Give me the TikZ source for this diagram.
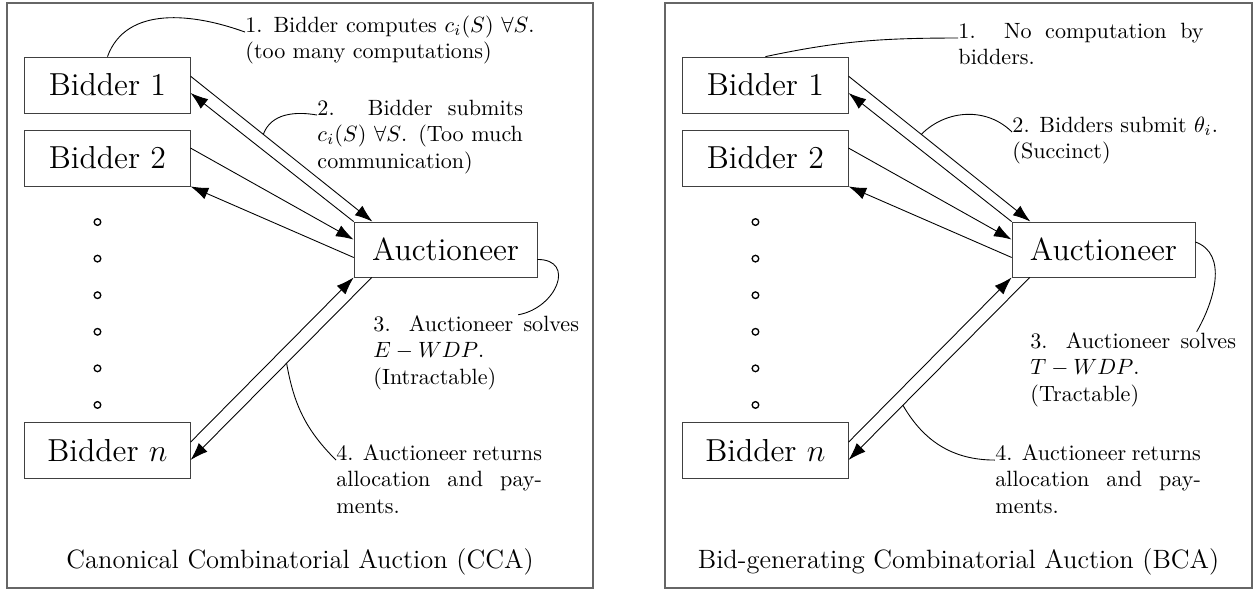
\documentclass[tikz,border=0pt]{standalone}
\usepackage{tikz}
\usetikzlibrary{arrows.meta}

\begin{document}
\begin{tikzpicture}[
    party box/.style={draw=black!75, font=\Large, minimum width=2.63cm, minimum height=0.89cm, inner sep=0pt},
    hub box/.style={party box, minimum width=2.91cm, minimum height=0.875cm},
    step note/.style={text width=3.27cm, align=justify, inner sep=0pt, anchor=base west},
    msg/.style={-{Latex[length=8pt,width=5.5pt]}},
    callout/.style={line width=0.4pt},
    panel frame/.style={draw=black!60, line width=0.8pt},
    ellipsis dot/.style={circle, draw, minimum size=3pt, inner sep=0pt, line width=0.6pt}
]

\useasboundingbox (0,0) rectangle (20,9.388);

% Frames
\draw[panel frame] (0.11,0.03) rectangle (9.435,9.34);
\draw[panel frame] (10.58,0.03) rectangle (19.92,9.34);

% === Left panel: Canonical Combinatorial Auction ===
\node[party box] (b1) at (1.71,8.035) {Bidder 1};
\node[party box] (b2) at (1.71,6.874) {Bidder 2};
\node[party box] (bn) at (1.71,2.22) {Bidder $n$};
\node[hub box] (auc) at (7.089,5.418) {Auctioneer};
\foreach \i in {0,...,5}
    \node[ellipsis dot] (d\i) at (1.551,5.855-0.582*\i) {};

% Bids and replies
\draw[msg] ([yshift=4pt]b1.east) -- coordinate[pos=0.4] (m1) ([xshift=8.5pt]auc.north west);
\draw[msg] (auc.north west) -- ([yshift=-3.6pt]b1.east);
\draw[msg] ([yshift=4.5pt]b2.east) -- ([yshift=4.5pt]auc.west);
\draw[msg] ([yshift=-3.6pt]auc.west) -- (b2.south east);
\draw[msg] ([yshift=3.8pt]bn.east) -- (auc.south west);
\draw[msg] ([xshift=8.2pt]auc.south west) -- coordinate[pos=0.47] (m2) ([yshift=-4.3pt]bn.east);

% Steps
\node[step note, text width=4.6cm] (t1) at (3.898,8.878) {1. Bidder computes $c_i(S)$ $\forall S$. (too many computations)};
\node[step note] (t2) at (5.044,7.558) {2. Bidder submits $c_i(S)$ $\forall S$. (Too much communication)};
\node[step note] (t3) at (5.935,4.121) {3. Auctioneer solves $E-WDP$.\\(Intractable)};
\node[step note] (t4) at (5.346,2.068) {4. Auctioneer returns allocation and payments.};

\draw[callout] (b1.north) to[out=70,in=160] (t1.base west);
\draw[callout] (m1) to[out=70,in=170] (t2.base west);
\draw[callout] ([yshift=-4.5pt]auc.east) to[out=0,in=10,looseness=1.7] ([xshift=19pt]t3.north);
\draw[callout] (m2) to[out=-80,in=135] (t4.base west);

\node[font=\large, anchor=base] (capL) at (4.773,0.35) {Canonical Combinatorial Auction (CCA)};

% === Right panel: Bid-generating Combinatorial Auction ===
\node[party box] (rb1) at (12.179,8.035) {Bidder 1};
\node[party box] (rb2) at (12.179,6.874) {Bidder 2};
\node[party box] (rbn) at (12.179,2.22) {Bidder $n$};
\node[hub box] (rauc) at (17.558,5.418) {Auctioneer};
\foreach \i in {0,...,5}
    \node[ellipsis dot] (rd\i) at (12.02,5.855-0.582*\i) {};

% Bids and replies
\draw[msg] ([yshift=4pt]rb1.east) -- coordinate[pos=0.4] (m3) ([xshift=8.5pt]rauc.north west);
\draw[msg] (rauc.north west) -- ([yshift=-3.6pt]rb1.east);
\draw[msg] ([yshift=4.5pt]rb2.east) -- ([yshift=4.5pt]rauc.west);
\draw[msg] ([yshift=-3.6pt]rauc.west) -- (rb2.south east);
\draw[msg] ([yshift=3.8pt]rbn.east) -- (rauc.south west);
\draw[msg] ([xshift=8.2pt]rauc.south west) -- coordinate[pos=0.7] (m4) ([yshift=-4.3pt]rbn.east);

% Steps
\node[step note, text width=3.9cm] (rt1) at (15.243,8.783) {1. No computation by bidders.};
\node[step note] (rt2) at (16.102,7.287) {2. Bidders submit $\theta_i$. (Succinct)};
\node[step note] (rt3) at (16.388,3.85) {3. Auctioneer solves $T-WDP$.\\(Tractable)};
\node[step note] (rt4) at (15.831,2.068) {4. Auctioneer returns allocation and payments.};

\draw[callout] (rb1.north) to[out=12,in=180] (rt1.base west);
\draw[callout] (m3) to[out=45,in=135] (rt2.base west);
\draw[callout] ([yshift=3.4pt]rauc.east) to[out=-20,in=60] ([xshift=-18pt]rt3.north east);
\draw[callout] (m4) to[out=-60,in=180] (rt4.base west);

\node[font=\large, anchor=base] (capR) at (15.251,0.35) {Bid-generating Combinatorial Auction (BCA)};

\end{tikzpicture}
\end{document}
